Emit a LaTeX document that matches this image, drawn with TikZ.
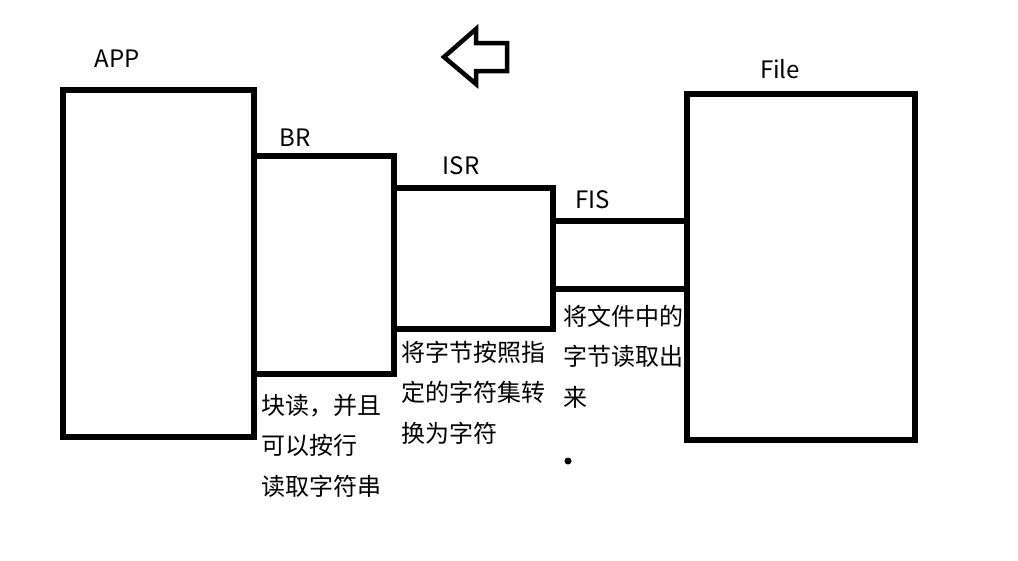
\documentclass[tikz,border=0pt]{standalone}
\usepackage{fontspec}
\setmainfont{Noto Sans CJK SC}
\begin{document}
\begin{tikzpicture}[x=1pt,y=-1pt,
  box/.style={draw=black,line width=5.2pt,rectangle,inner sep=0pt,outer sep=0pt},
  lbl/.style={inner sep=0pt,anchor=base,font=\fontsize{24}{40.5}\selectfont},
  note/.style={inner sep=0pt,anchor=base west,align=left,font=\fontsize{24}{40.5}\selectfont}]
\useasboundingbox[fill=white] (0,0) rectangle (1018,560);
% boxes
\node[box,minimum width=191pt,minimum height=347pt] (app) at (158.5,263.5) {};
\node[box,minimum width=140pt,minimum height=218pt] (br) at (324,265) {};
\node[box,minimum width=159pt,minimum height=141pt] (isr) at (473.5,258.5) {};
\node[box,minimum width=134pt,minimum height=68pt] (fis) at (620,255) {};
\node[box,minimum width=228pt,minimum height=346pt] (file) at (801,267) {};
% labels
\node[lbl] (tapp) at (117,67) {APP};
\node[lbl] (tbr) at (295,146) {BR};
\node[lbl] (tisr) at (461,174) {ISR};
\node[lbl] (tfis) at (593,208) {FIS};
\node[lbl] (tfile) at (780,78) {File};
% notes (anchored at the baseline of the last line)
\node[note] (nbr) at (261,495) {块读，并且\\可以按行\\读取字符串};
\node[note] (nisr) at (401,442) {将字节按照指\\定的字符集转\\换为字符};
\node[note] (nfis) at (563,406) {将文件中的\\字节读取出\\来};
% dot
\node[circle,fill=black,inner sep=0pt,minimum size=7pt] (dot) at (568,461) {};
% hollow arrow
\draw[line width=4.5pt,line join=miter] (444,57) -- (476,29) -- (476,43) -- (507,43) -- (507,71) -- (476,71) -- (476,84) -- cycle;
\end{tikzpicture}
\end{document}
